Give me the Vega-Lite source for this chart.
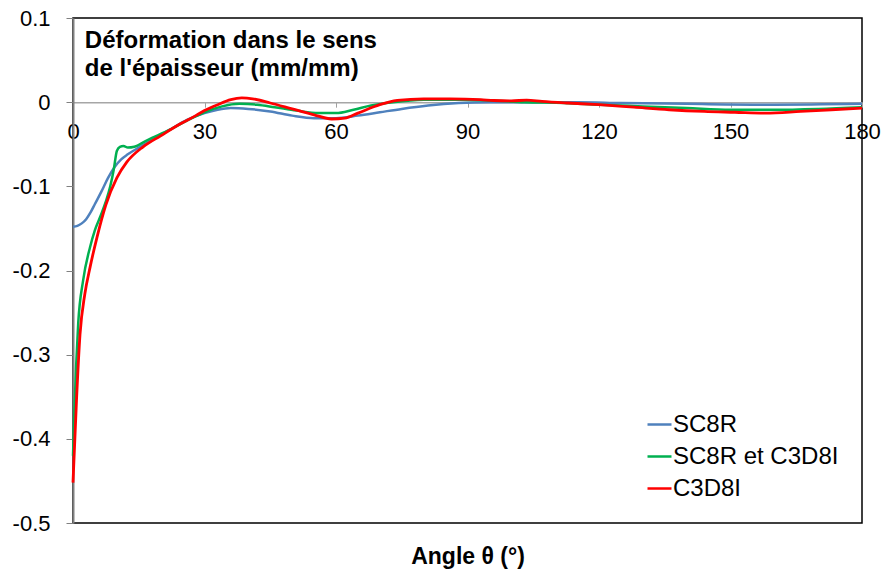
{
  "$schema": "https://vega.github.io/schema/vega-lite/v6.json",
  "width": 789,
  "height": 505,
  "autosize": {"type": "none"},
  "padding": {"left": 73, "top": 18, "right": 22, "bottom": 47},
  "background": "#ffffff",
  "config": {
    "font": "Liberation Sans",
    "locale": {"number": {"decimal": ".", "thousands": ",", "grouping": [3], "currency": ["", ""], "minus": "-"}},
    "view": {"stroke": "#000000", "strokeWidth": 1.5}
  },
  "datasets": {
    "curves": [
      {"series": "SC8R", "angle": 0, "strain": -0.148},
      {"series": "SC8R", "angle": 1, "strain": -0.147},
      {"series": "SC8R", "angle": 2, "strain": -0.144},
      {"series": "SC8R", "angle": 3, "strain": -0.139},
      {"series": "SC8R", "angle": 4, "strain": -0.131},
      {"series": "SC8R", "angle": 5, "strain": -0.121},
      {"series": "SC8R", "angle": 6.5, "strain": -0.106},
      {"series": "SC8R", "angle": 8, "strain": -0.09},
      {"series": "SC8R", "angle": 9.5, "strain": -0.077},
      {"series": "SC8R", "angle": 11, "strain": -0.068},
      {"series": "SC8R", "angle": 12.5, "strain": -0.062},
      {"series": "SC8R", "angle": 15, "strain": -0.054},
      {"series": "SC8R", "angle": 18, "strain": -0.045},
      {"series": "SC8R", "angle": 22, "strain": -0.033},
      {"series": "SC8R", "angle": 26, "strain": -0.021},
      {"series": "SC8R", "angle": 30, "strain": -0.013},
      {"series": "SC8R", "angle": 33, "strain": -0.009},
      {"series": "SC8R", "angle": 36, "strain": -0.007},
      {"series": "SC8R", "angle": 40, "strain": -0.008},
      {"series": "SC8R", "angle": 45, "strain": -0.011},
      {"series": "SC8R", "angle": 50, "strain": -0.016},
      {"series": "SC8R", "angle": 55, "strain": -0.019},
      {"series": "SC8R", "angle": 60, "strain": -0.019},
      {"series": "SC8R", "angle": 65, "strain": -0.016},
      {"series": "SC8R", "angle": 70, "strain": -0.012},
      {"series": "SC8R", "angle": 75, "strain": -0.008},
      {"series": "SC8R", "angle": 81, "strain": -0.004},
      {"series": "SC8R", "angle": 88, "strain": -0.001},
      {"series": "SC8R", "angle": 95, "strain": 0},
      {"series": "SC8R", "angle": 105, "strain": 0},
      {"series": "SC8R", "angle": 115, "strain": 0},
      {"series": "SC8R", "angle": 125, "strain": -0.001},
      {"series": "SC8R", "angle": 140, "strain": -0.002},
      {"series": "SC8R", "angle": 160, "strain": -0.003},
      {"series": "SC8R", "angle": 180, "strain": -0.002},

      {"series": "SC8R et C3D8I", "angle": 0, "strain": -0.42},
      {"series": "SC8R et C3D8I", "angle": 0.3, "strain": -0.37},
      {"series": "SC8R et C3D8I", "angle": 0.7, "strain": -0.315},
      {"series": "SC8R et C3D8I", "angle": 1.2, "strain": -0.262},
      {"series": "SC8R et C3D8I", "angle": 2.3, "strain": -0.212},
      {"series": "SC8R et C3D8I", "angle": 3.9, "strain": -0.172},
      {"series": "SC8R et C3D8I", "angle": 5, "strain": -0.152},
      {"series": "SC8R et C3D8I", "angle": 6.3, "strain": -0.135},
      {"series": "SC8R et C3D8I", "angle": 7.5, "strain": -0.118},
      {"series": "SC8R et C3D8I", "angle": 8.5, "strain": -0.1},
      {"series": "SC8R et C3D8I", "angle": 9.3, "strain": -0.08},
      {"series": "SC8R et C3D8I", "angle": 10, "strain": -0.058},
      {"series": "SC8R et C3D8I", "angle": 10.7, "strain": -0.053},
      {"series": "SC8R et C3D8I", "angle": 11.5, "strain": -0.052},
      {"series": "SC8R et C3D8I", "angle": 12.5, "strain": -0.054},
      {"series": "SC8R et C3D8I", "angle": 14, "strain": -0.053},
      {"series": "SC8R et C3D8I", "angle": 17, "strain": -0.045},
      {"series": "SC8R et C3D8I", "angle": 22, "strain": -0.033},
      {"series": "SC8R et C3D8I", "angle": 26, "strain": -0.022},
      {"series": "SC8R et C3D8I", "angle": 30, "strain": -0.012},
      {"series": "SC8R et C3D8I", "angle": 34, "strain": -0.005},
      {"series": "SC8R et C3D8I", "angle": 38, "strain": -0.002},
      {"series": "SC8R et C3D8I", "angle": 42, "strain": -0.003},
      {"series": "SC8R et C3D8I", "angle": 46, "strain": -0.006},
      {"series": "SC8R et C3D8I", "angle": 51, "strain": -0.01},
      {"series": "SC8R et C3D8I", "angle": 56, "strain": -0.013},
      {"series": "SC8R et C3D8I", "angle": 60, "strain": -0.013},
      {"series": "SC8R et C3D8I", "angle": 64, "strain": -0.009},
      {"series": "SC8R et C3D8I", "angle": 68, "strain": -0.004},
      {"series": "SC8R et C3D8I", "angle": 73, "strain": 0},
      {"series": "SC8R et C3D8I", "angle": 80, "strain": 0.003},
      {"series": "SC8R et C3D8I", "angle": 88, "strain": 0.003},
      {"series": "SC8R et C3D8I", "angle": 95, "strain": 0.002},
      {"series": "SC8R et C3D8I", "angle": 103, "strain": 0},
      {"series": "SC8R et C3D8I", "angle": 112, "strain": -0.001},
      {"series": "SC8R et C3D8I", "angle": 120, "strain": -0.003},
      {"series": "SC8R et C3D8I", "angle": 130, "strain": -0.005},
      {"series": "SC8R et C3D8I", "angle": 140, "strain": -0.007},
      {"series": "SC8R et C3D8I", "angle": 150, "strain": -0.009},
      {"series": "SC8R et C3D8I", "angle": 160, "strain": -0.009},
      {"series": "SC8R et C3D8I", "angle": 170, "strain": -0.008},
      {"series": "SC8R et C3D8I", "angle": 180, "strain": -0.006},

      {"series": "C3D8I", "angle": 0, "strain": -0.452},
      {"series": "C3D8I", "angle": 0.8, "strain": -0.354},
      {"series": "C3D8I", "angle": 1.6, "strain": -0.276},
      {"series": "C3D8I", "angle": 2.7, "strain": -0.228},
      {"series": "C3D8I", "angle": 3.9, "strain": -0.196},
      {"series": "C3D8I", "angle": 5.5, "strain": -0.16},
      {"series": "C3D8I", "angle": 7.5, "strain": -0.122},
      {"series": "C3D8I", "angle": 10, "strain": -0.09},
      {"series": "C3D8I", "angle": 12.3, "strain": -0.071},
      {"series": "C3D8I", "angle": 16, "strain": -0.053},
      {"series": "C3D8I", "angle": 20, "strain": -0.04},
      {"series": "C3D8I", "angle": 24.4, "strain": -0.026},
      {"series": "C3D8I", "angle": 28, "strain": -0.016},
      {"series": "C3D8I", "angle": 30, "strain": -0.01},
      {"series": "C3D8I", "angle": 33, "strain": -0.003},
      {"series": "C3D8I", "angle": 36, "strain": 0.003},
      {"series": "C3D8I", "angle": 38.5, "strain": 0.005},
      {"series": "C3D8I", "angle": 41, "strain": 0.004},
      {"series": "C3D8I", "angle": 45, "strain": -0.001},
      {"series": "C3D8I", "angle": 50, "strain": -0.008},
      {"series": "C3D8I", "angle": 55, "strain": -0.015},
      {"series": "C3D8I", "angle": 59, "strain": -0.02},
      {"series": "C3D8I", "angle": 62, "strain": -0.019},
      {"series": "C3D8I", "angle": 65, "strain": -0.013},
      {"series": "C3D8I", "angle": 70, "strain": -0.003},
      {"series": "C3D8I", "angle": 74, "strain": 0.002},
      {"series": "C3D8I", "angle": 80, "strain": 0.004},
      {"series": "C3D8I", "angle": 86, "strain": 0.004},
      {"series": "C3D8I", "angle": 93, "strain": 0.003},
      {"series": "C3D8I", "angle": 96, "strain": 0.002},
      {"series": "C3D8I", "angle": 100, "strain": 0.0015},
      {"series": "C3D8I", "angle": 103.5, "strain": 0.0025},
      {"series": "C3D8I", "angle": 107, "strain": 0.001},
      {"series": "C3D8I", "angle": 113, "strain": -0.001},
      {"series": "C3D8I", "angle": 120, "strain": -0.003},
      {"series": "C3D8I", "angle": 128, "strain": -0.006},
      {"series": "C3D8I", "angle": 136, "strain": -0.009},
      {"series": "C3D8I", "angle": 144, "strain": -0.011},
      {"series": "C3D8I", "angle": 151, "strain": -0.012},
      {"series": "C3D8I", "angle": 158, "strain": -0.013},
      {"series": "C3D8I", "angle": 166, "strain": -0.011},
      {"series": "C3D8I", "angle": 173, "strain": -0.009},
      {"series": "C3D8I", "angle": 180, "strain": -0.007}
    ],
    "heading": [
      {"caption": "Déformation dans le sens\nde l'épaisseur (mm/mm)", "ax": 2.7, "ay": 0.064}
    ]
  },
  "layer": [
    {
      "data": {"name": "curves"},
      "transform": [{"filter": "datum.series === 'SC8R'"}],
      "mark": {"type": "line", "interpolate": "monotone", "strokeWidth": 2.5},
      "encoding": {
        "x": {
          "field": "angle",
          "type": "quantitative",
          "scale": {"domain": [0, 180], "nice": false},
          "axis": {
            "values": [0, 30, 60, 90, 120, 150, 180],
            "orient": "bottom",
            "offset": -420.83,
            "title": "Angle θ (°)",
            "titleFontSize": 23,
            "titleFontWeight": "bold",
            "titleColor": "#000000",
            "titlePadding": 403,
            "labelFontSize": 22,
            "labelColor": "#000000",
            "labelFlush": false,
            "labelOverlap": false,
            "labelPadding": 14,
            "tickColor": "#a0a0a0",
            "tickSize": 5,
            "domainColor": "#a6a6a6",
            "domainWidth": 1.5,
            "grid": false
          }
        },
        "y": {
          "field": "strain",
          "type": "quantitative",
          "scale": {"domain": [-0.5, 0.1], "nice": false, "zero": false},
          "axis": {
            "values": [-0.5, -0.4, -0.3, -0.2, -0.1, 0, 0.1],
            "format": ".1~f",
            "title": null,
            "labelFontSize": 22,
            "labelColor": "#000000",
            "labelPadding": 16,
            "tickColor": "#808080",
            "tickSize": 7,
            "domainColor": "#808080",
            "domainWidth": 2,
            "grid": false
          }
        },
        "color": {
          "field": "series",
          "type": "nominal",
          "scale": {"domain": ["SC8R", "SC8R et C3D8I", "C3D8I"], "range": ["#4F81BD", "#00B050", "#FF0000"]},
          "legend": {
            "orient": "none",
            "legendX": 573,
            "legendY": 393,
            "title": null,
            "symbolType": "stroke",
            "symbolSize": 576,
            "symbolStrokeWidth": 2.5,
            "labelFontSize": 24,
            "labelLimit": 400,
            "labelColor": "#000000",
            "labelOffset": 0,
            "rowPadding": 6
          }
        }
      }
    },
    {
      "data": {"name": "curves"},
      "transform": [{"filter": "datum.series === 'SC8R et C3D8I'"}],
      "mark": {"type": "line", "interpolate": "monotone", "strokeWidth": 2.5},
      "encoding": {
        "x": {"field": "angle", "type": "quantitative"},
        "y": {"field": "strain", "type": "quantitative"},
        "color": {"field": "series", "type": "nominal"}
      }
    },
    {
      "data": {"name": "curves"},
      "transform": [{"filter": "datum.series === 'C3D8I'"}],
      "mark": {"type": "line", "interpolate": "monotone", "strokeWidth": 2.8},
      "encoding": {
        "x": {"field": "angle", "type": "quantitative"},
        "y": {"field": "strain", "type": "quantitative"},
        "color": {"field": "series", "type": "nominal"}
      }
    },
    {
      "data": {"name": "heading"},
      "mark": {"type": "text", "align": "left", "baseline": "alphabetic", "fontSize": 24, "fontWeight": "bold", "lineHeight": 28, "lineBreak": "\n", "color": "#000000"},
      "encoding": {
        "x": {"field": "ax", "type": "quantitative"},
        "y": {"field": "ay", "type": "quantitative"},
        "text": {"field": "caption", "type": "nominal"}
      }
    }
  ]
}
